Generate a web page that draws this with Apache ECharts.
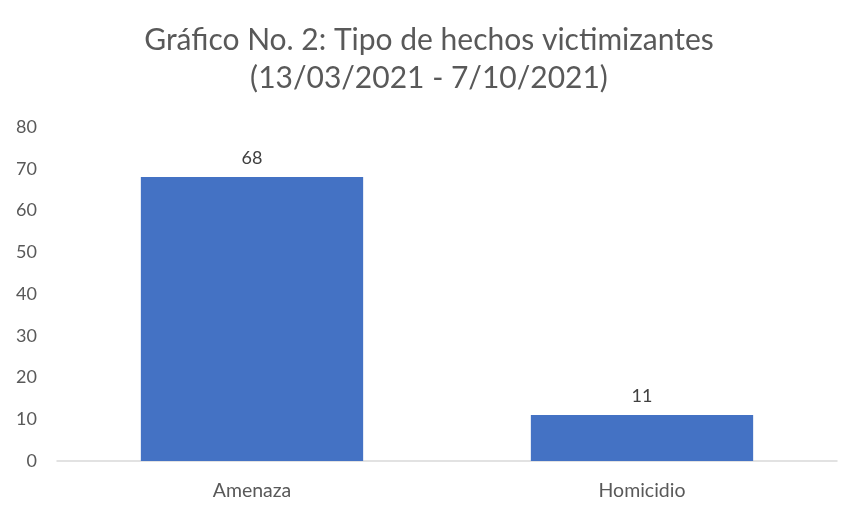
<!DOCTYPE html>
<html><head><meta charset="utf-8">
<script src="https://cdn.jsdelivr.net/npm/echarts@6/dist/echarts.min.js"></script>
<style>html,body{margin:0;padding:0;background:#fff}#c{width:858px;height:513px}</style>
</head><body><div id="c"></div>
<script>
const categories = ["Amenaza", "Homicidio"];
const values = [68, 11];
const titleLines = ["Gráfico No. 2: Tipo de hechos victimizantes", "(13/03/2021 - 7/10/2021)"];
const FONT = "Lato";
const chart = echarts.init(document.getElementById('c'));
chart.setOption({
  animation: false,
  textStyle: { fontFamily: FONT },
  title: {
    text: titleLines.join("\n"),
    left: 'center', top: 16,
    textStyle: { fontFamily: FONT, fontSize: 30, fontWeight: 'normal', color: '#595959', lineHeight: 38 }
  },
  grid: { left: 57, right: 21, top: 127, bottom: 52, containLabel: false },
  xAxis: {
    type: 'category', data: categories,
    axisLine: { lineStyle: { color: '#d9d9d9', width: 1.5 } },
    axisTick: { show: false },
    axisLabel: { color: '#595959', fontSize: 19.5, fontFamily: FONT, margin: 20 }
  },
  yAxis: {
    type: 'value', min: 0, max: 80, interval: 10,
    axisLine: { show: false }, axisTick: { show: false },
    splitLine: { show: false },
    axisLabel: { color: '#595959', fontSize: 18, fontFamily: FONT, margin: 20 }
  },
  series: [{
    type: 'bar', data: values, barWidth: '57%',
    itemStyle: { color: '#4472C4' },
    label: { show: true, position: 'top', distance: 10, color: '#404040', fontSize: 18, fontFamily: FONT }
  }]
});
</script></body></html>
